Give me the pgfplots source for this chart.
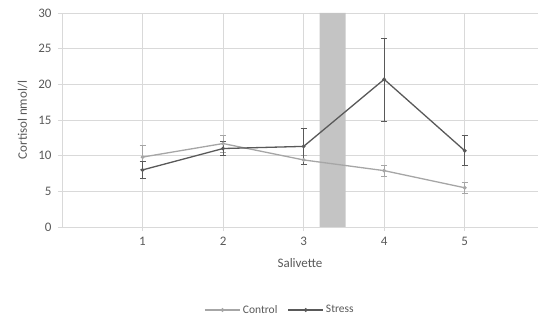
\documentclass[border=0pt]{standalone}
\usepackage{pgfplots}
\pgfplotsset{compat=1.18}
\usepackage{fontspec}
\setmainfont{Carlito}
\definecolor{ctrl}{HTML}{A6A6A6}
\definecolor{strs}{HTML}{595959}
\definecolor{gridc}{HTML}{D9D9D9}
\definecolor{txt}{HTML}{595959}
\definecolor{band}{HTML}{C4C4C4}

\begin{document}
\begin{tikzpicture}
\begin{axis}[
  scale only axis, width=476pt, height=214pt,
  xmin=0, xmax=5.91, ymin=0, ymax=30,
  xtick={1,2,3,4,5}, ytick={0,5,10,15,20,25,30},
  axis lines*=left,
  axis line style={gridc, line width=0.8pt},
  grid=major, major grid style={gridc, line width=0.8pt},
  tick align=outside, major tick length=4pt,
  tick style={gridc, line width=0.8pt},
  ticklabel style={font=\fontsize{13}{15}\selectfont, text=txt},
  xticklabel style={yshift=-3pt},
  yticklabel style={xshift=-3pt},
  /pgf/number format/assume math mode=true,
  xlabel={Salivette}, ylabel={Cortisol nmol/l},
  label style={font=\fontsize{13}{15}\selectfont, text=txt},
  xlabel style={yshift=-6pt},
  ylabel style={yshift=4pt},
  legend columns=2,
  legend style={at={(0.458,0)}, yshift=-83pt, anchor=center, draw=none,
    font=\fontsize{11.5}{13}\selectfont, text=txt,
    /tikz/every even column/.append style={column sep=8pt}},
  legend image code/.code={%
    \draw[mark repeat=2, mark phase=2, mark size=1.2pt]
      plot coordinates {(0cm,0cm) (0.62cm,0cm) (1.24cm,0cm)};},
  legend cell align=left,
  error bars/y dir=both, error bars/y explicit,
  error bars/error bar style={line width=0.8pt},
  error bars/error mark options={rotate=90, mark size=3pt, line width=0.8pt},
]
% shaded interval between sample 3 and 4
\addplot[fill=band, draw=none, forget plot, error bars/y dir=none]
  coordinates {(3.2,0) (3.52,0) (3.52,30) (3.2,30)} \closedcycle;

\addplot[ctrl, line width=1.3pt, mark=*, mark size=1.2pt,
  error bars/error bar style={ctrl}, error bars/error mark options={ctrl, rotate=90, mark size=3pt}]
  coordinates {
    (1,9.8)  +- (0,1.7)
    (2,11.7) +- (0,1.2)
    (3,9.4)  +- (0,0.6)
    (4,7.9)  +- (0,0.8)
    (5,5.5)  +- (0,0.75)
  };
\addlegendentry{Control}

\addplot[strs, line width=1.3pt, mark=*, mark size=1.2pt,
  error bars/error bar style={strs}, error bars/error mark options={strs, rotate=90, mark size=3pt}]
  coordinates {
    (1,8.0)  +- (0,1.2)
    (2,11.0) +- (0,1.0)
    (3,11.3) +- (0,2.5)
    (4,20.7) +- (0,5.8)
    (5,10.7) +- (0,2.1)
  };
\addlegendentry{Stress}
\end{axis}
\path (rel axis cs:0,0) ++(-62pt,-96pt) rectangle ++(539pt,323pt);
\end{tikzpicture}
\end{document}
